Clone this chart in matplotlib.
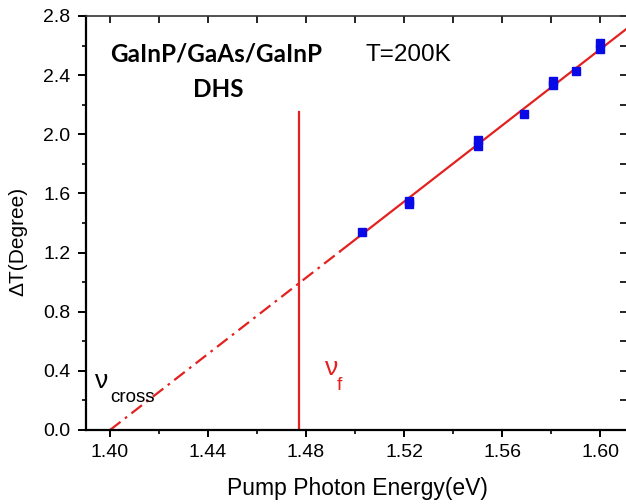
import matplotlib
matplotlib.use("Agg")
import matplotlib.pyplot as plt
import numpy as np
from matplotlib.ticker import MultipleLocator, FormatStrFormatter

plt.rcParams['font.family'] = ['Liberation Sans', 'DejaVu Sans']

# measured temperature rise vs pump photon energy (T = 200 K)
energy = [1.503, 1.522, 1.522, 1.550, 1.550, 1.569, 1.581, 1.581, 1.590, 1.600, 1.600]
delta_t = [1.34, 1.55, 1.53, 1.96, 1.92, 2.14, 2.36, 2.33, 2.43, 2.62, 2.58]

# linear fit: dT = slope * (E - nu_cross)
nu_cross = 1.40
fit_slope = 12.87
fit_solid_start = 1.494
nu_f = 1.477
nu_f_top = 2.15

red = '#e3211f'
blue = '#0a0ae6'

fig = plt.figure(figsize=(6.26, 5.04), dpi=100)
ax = fig.add_axes([85.5 / 626, 74 / 504, 541.5 / 626, 414 / 504])

xmin, xmax = 1.39, 1.611
ax.set_xlim(xmin, xmax)
ax.set_ylim(0, 2.8)

# extrapolated part (dash-dot) and fitted part (solid)
xe = np.array([nu_cross, fit_solid_start])
ax.plot(xe, fit_slope * (xe - nu_cross), color=red, lw=1.6,
        dashes=(6, 2.5, 1.2, 2.5))
xs = np.array([fit_solid_start, xmax])
ax.plot(xs, fit_slope * (xs - nu_cross), color=red, lw=1.6)

ax.plot([nu_f, nu_f], [0, nu_f_top], color=red, lw=1.6)

ax.plot(energy, delta_t, ls='none', marker='s', ms=6, color=blue,
        mec=blue, zorder=3)

# axes styling
for side in ['left', 'bottom']:
    ax.spines[side].set_linewidth(1.6)
for side in ['top', 'right']:
    ax.spines[side].set_linewidth(1.2)
    ax.spines[side].set_color('#333333')

ax.xaxis.set_major_locator(MultipleLocator(0.04))
ax.xaxis.set_minor_locator(MultipleLocator(0.02))
ax.yaxis.set_major_locator(MultipleLocator(0.4))
ax.yaxis.set_minor_locator(MultipleLocator(0.2))
ax.xaxis.set_major_formatter(FormatStrFormatter('%.2f'))
ax.yaxis.set_major_formatter(FormatStrFormatter('%.1f'))

ax.tick_params(which='major', direction='out', length=5, width=1.4,
               labelsize=14, pad=5)
ax.tick_params(axis='y', which='major', length=6)
ax.tick_params(which='minor', direction='out', length=3, width=1.2)

# mirrored inward ticks on top and right
top = ax.secondary_xaxis('top')
top.xaxis.set_major_locator(MultipleLocator(0.02))
top.tick_params(direction='in', length=5, width=1.2, labeltop=False)
top.spines['top'].set_visible(False)
right = ax.secondary_yaxis('right')
right.yaxis.set_major_locator(MultipleLocator(0.2))
right.tick_params(direction='in', length=5, width=1.2, labelright=False)
right.spines['right'].set_visible(False)

ax.set_xlabel('Pump Photon Energy(eV)', fontsize=16.5)
ax.xaxis.set_label_coords((357 - 85.5) / 541.5, -(477 - 430) / 414)
ax.set_ylabel('ΔT(Degree)', fontsize=15)
ax.yaxis.set_label_coords(-(85.5 - 27) / 541.5, (430 - 241) / 414)

# annotations
ax.text(1.4433, 2.542, 'GaInP/GaAs/GaInP', fontsize=17.5, fontweight='bold',
        family='Lato', ha='center', va='center')
ax.text(1.4441, 2.305, 'DHS', fontsize=17.5, fontweight='bold',
        family='Lato', ha='center', va='center')
ax.text(1.5041, 2.536, 'T=200K', fontsize=17.5, ha='left', va='center')

ax.text(1.3939, 0.285, 'ν', fontsize=19, ha='left', va='baseline')
ax.text(1.4000, 0.19, 'cross', fontsize=13.5, ha='left', va='baseline')
ax.text(1.4878, 0.373, 'ν', fontsize=19, ha='left', va='baseline', color=red)
ax.text(1.4927, 0.27, 'f', fontsize=14, ha='left', va='baseline', color=red)

fig.savefig('out.png', dpi=100)
